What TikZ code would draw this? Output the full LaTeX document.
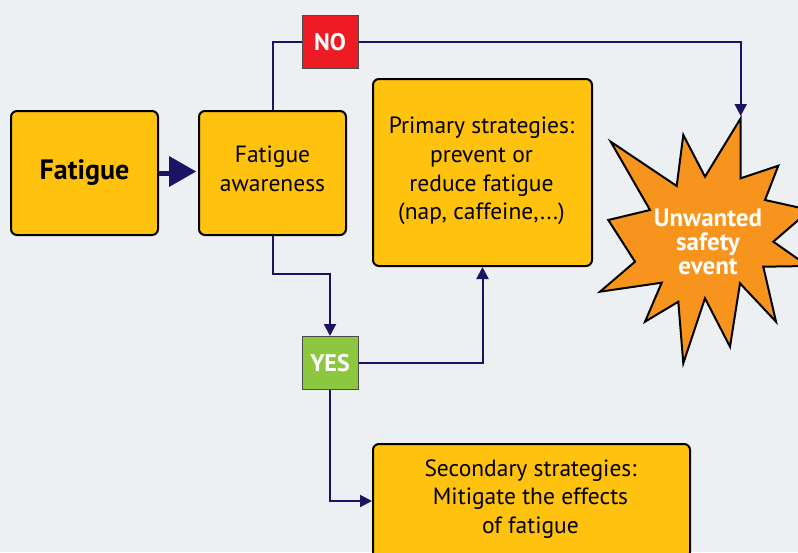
\documentclass[tikz,border=0pt]{standalone}
\usepackage{fontspec}
\setmainfont{PT Sans}
\usetikzlibrary{arrows.meta}
\definecolor{bg}{HTML}{EDF0F3}
\definecolor{boxy}{HTML}{FFC20E}
\definecolor{navy}{HTML}{1B1464}
\definecolor{nored}{HTML}{ED1C24}
\definecolor{yesgreen}{HTML}{8DC63F}
\definecolor{starorange}{HTML}{F7941D}
\tikzset{
  ybox/.style={draw=black, line width=2pt, fill=boxy, rounded corners=6pt, align=center,
    inner sep=0pt},
  btext/.style={align=center, font=\fontsize{23.5}{28.7}\selectfont},
  tag/.style={draw=black!70, line width=1pt, minimum width=56pt, minimum height=53pt,
    inner sep=0pt, text=white, font=\fontsize{24}{25}\bfseries},
  conn/.style={draw=navy, line width=2pt},
  tip/.style={-{Triangle[width=12pt,length=12pt]}}
}
\begin{document}
\begin{tikzpicture}[x=1pt,y=-1pt]
\useasboundingbox (0,0) rectangle (798,552);
\fill[bg] (0,0) rectangle (798,552);
\clip (0,0) rectangle (798,552);
% boxes
\node[ybox, minimum width=147pt, minimum height=124pt, font=\fontsize{28}{29}\bfseries] (fat) at (84.5,173) {Fatigue};
\node[ybox, minimum width=147pt, minimum height=124pt] (aw) at (272.5,173) {};
\node[btext] (awtext) at (272.5,168.5) {Fatigue\\awareness};
\node[ybox, minimum width=219pt, minimum height=187pt, anchor=north west] (prim) at (372,78) {};
\node[btext] (primtext) at (481.5,171) {Primary strategies:\\prevent or\\reduce fatigue\\(nap, caffeine,...)};
\node[ybox, minimum width=317pt, minimum height=114pt, anchor=north west] (sec) at (372,443) {};
\node[btext] (sectext) at (530.5,499) {Secondary strategies:\\Mitigate the effects\\of fatigue};
\node[tag, fill=nored] (no) at (330,42) {NO};
\node[tag, fill=yesgreen] (yes) at (330,363) {YES};
% starburst
\filldraw[fill=starorange, draw=black, line width=2pt, line join=miter]
 (740.7,118.3) -- (740.7,178.3) -- (778.3,165.7) -- (765,200) -- (810,210) -- (773.3,241.7)
 -- (808,266) -- (763.3,266.7) -- (776,321.7) -- (740,283.3) -- (730,346.7) -- (705,298.3)
 -- (683.3,363.3) -- (678.3,301.7) -- (645,321.7) -- (661.7,282.7) -- (600,291.7) -- (635,261.7)
 -- (608.3,220) -- (650,210) -- (610.7,141.7) -- (676.7,186) -- (683.3,135) -- (705,176.7) -- cycle;
\coordinate (startop) at (740.7,116);
\node[align=center, text=white, font=\fontsize{25}{24}\bfseries] (star) at (708,242) {Unwanted\\safety\\event};
% connectors
\draw[navy, line width=5pt] (fat.east) -- ++(13pt,0);
\fill[navy] (169,156) -- (196,171.5) -- (169,187) -- cycle;
\coordinate (fatarrow) at (196,171.5);
\draw[conn] (aw.north) |- (no.west);
\draw[conn, tip] (no.east) -| (startop);
\draw[conn, tip] (aw.south) -- ++(0,38) -| (yes.north);
\draw[conn, tip] (yes.east) -| (prim.south);
\draw[conn, tip] (yes.south) |- (sec.west);
\end{tikzpicture}
\end{document}
